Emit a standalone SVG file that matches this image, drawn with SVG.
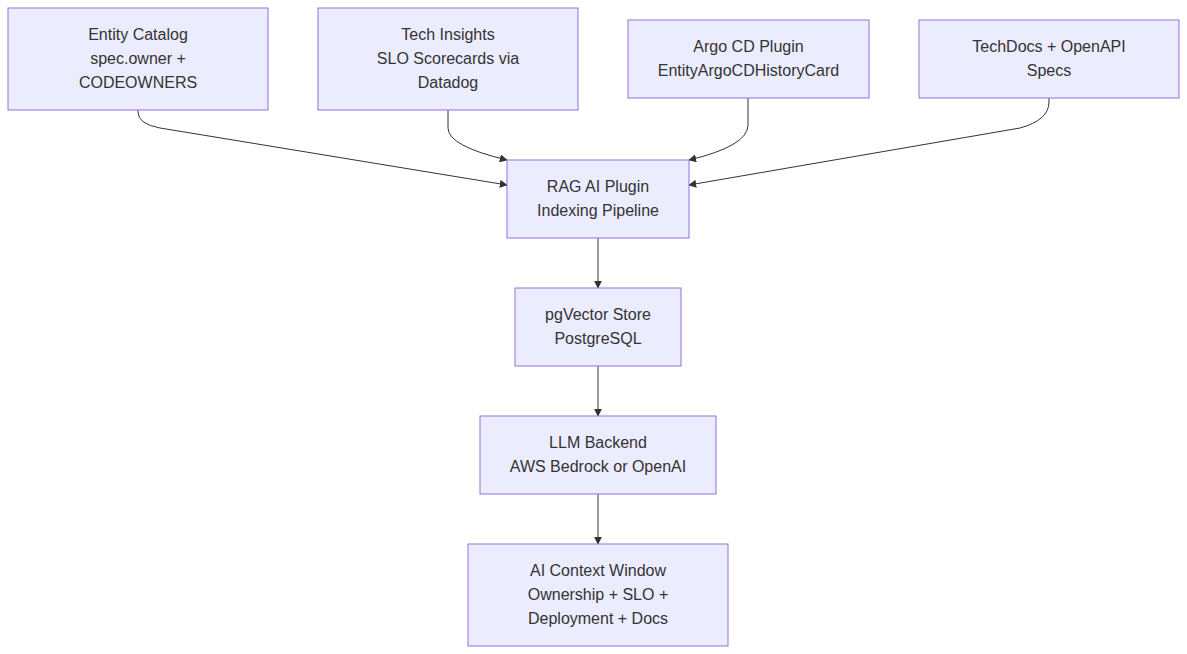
<svg xmlns="http://www.w3.org/2000/svg" width="1187" height="654" viewBox="0 0 1187 654">
<style>
.n rect{fill:#ECECFF;stroke:#9370DB;stroke-width:1}
.n text{font-family:"Liberation Sans",Arial,sans-serif;font-size:16px;fill:#333;text-anchor:middle}
.e path{fill:none;stroke:#333;stroke-width:1}
</style>
<defs><marker id="a" viewBox="0 0 10 10" refX="9" refY="5" markerWidth="8" markerHeight="8" orient="auto"><path d="M0,0L10,5L0,10z" fill="#333"/></marker></defs>
<rect width="1187" height="654" fill="#fff"/>
<g class="e">
<path d="M138,110 V112 Q138,124 160,128 L507,185" marker-end="url(#a)"/>
<path d="M448,110 V128 Q448,146 507,160" marker-end="url(#a)"/>
<path d="M748,98 V125 Q748,146 689,160" marker-end="url(#a)"/>
<path d="M1049,98 V102 Q1049,120 1020,128 L689,185" marker-end="url(#a)"/>
<path d="M598,238 V288" marker-end="url(#a)"/>
<path d="M598,366 V416" marker-end="url(#a)"/>
<path d="M598,494 V544" marker-end="url(#a)"/>
</g>
<g id="catalog" class="n"><rect x="8" y="8" width="260" height="102"/><text x="138" y="40">Entity Catalog</text><text x="138" y="64">spec.owner +</text><text x="138" y="88">CODEOWNERS</text></g>
<g id="insights" class="n"><rect x="318" y="8" width="260" height="102"/><text x="448" y="40">Tech Insights</text><text x="448" y="64">SLO Scorecards via</text><text x="448" y="88">Datadog</text></g>
<g id="argo" class="n"><rect x="628" y="20" width="241" height="78"/><text x="748.5" y="52">Argo CD Plugin</text><text x="748.5" y="76">EntityArgoCDHistoryCard</text></g>
<g id="techdocs" class="n"><rect x="919" y="20" width="260" height="78"/><text x="1049" y="52">TechDocs + OpenAPI</text><text x="1049" y="76">Specs</text></g>
<g id="rag" class="n"><rect x="507" y="160" width="182" height="78"/><text x="598" y="192">RAG AI Plugin</text><text x="598" y="216">Indexing Pipeline</text></g>
<g id="pg" class="n"><rect x="515" y="288" width="166" height="78"/><text x="598" y="320">pgVector Store</text><text x="598" y="344">PostgreSQL</text></g>
<g id="llm" class="n"><rect x="480" y="416" width="236" height="78"/><text x="598" y="448">LLM Backend</text><text x="598" y="472">AWS Bedrock or OpenAI</text></g>
<g id="ctx" class="n"><rect x="468" y="544" width="260" height="102"/><text x="598" y="576">AI Context Window</text><text x="598" y="600">Ownership + SLO +</text><text x="598" y="624">Deployment + Docs</text></g>
</svg>
